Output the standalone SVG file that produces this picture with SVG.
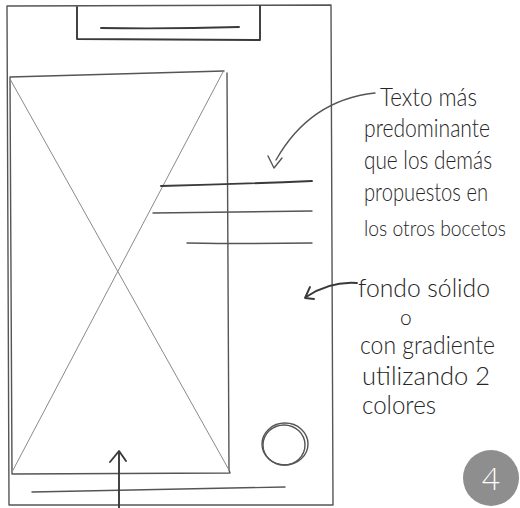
<svg xmlns="http://www.w3.org/2000/svg" width="520" height="508" viewBox="0 0 520 508">
<style>
.pen{fill:none;stroke:#555;stroke-width:1.4;stroke-linecap:round;stroke-linejoin:round}
.dark{fill:none;stroke:#3a3a3a;stroke-width:1.9;stroke-linecap:round;stroke-linejoin:round}
.light{fill:none;stroke:#8a8a8a;stroke-width:1;stroke-linecap:round}
.hand{font-family:Lato,"Open Sans","Liberation Sans",sans-serif;font-weight:300;font-size:25px;fill:#262626}
.badge{font-family:Lato,"Open Sans","Liberation Sans",sans-serif;font-weight:300;font-size:32px;fill:#fff}
</style>
<rect width="520" height="508" fill="#fff"/>
<g id="phone-frame">
<path class="pen" d="M7,6 L331,5 L333,505 L9,505 Z" stroke="#666" stroke-width="1.2"/>
</g>
<g id="header">
<path class="dark" d="M77,7 L77,39 L260,40 L260,6"/>
<path class="dark" d="M101,28 Q170,29 239,27"/>
</g>
<g id="image-placeholder">
<path class="pen" d="M10,77 L224,71 M227,73 L229,470 L230,473 L12,474 L10,77" stroke="#4a4a4a" stroke-width="1.5"/>
<path class="light" d="M10,79 L229,470"/>
<path class="light" d="M223,72 L12,472"/>
</g>
<g id="text-lines">
<path class="dark" d="M161,186 Q240,184 312,181"/>
<path class="pen" d="M153,213 L312,211" stroke="#666"/>
<path class="pen" d="M187,243 Q250,244 312,243" stroke="#555"/>
</g>
<g id="fab">
<ellipse class="pen" cx="285" cy="444" rx="23" ry="21" stroke="#444"/>
<ellipse class="pen" cx="284" cy="445" rx="21" ry="20" stroke="#777" stroke-width="1"/>
</g>
<g id="bottom-bar">
<path class="pen" d="M32,492 Q160,490 285,487" stroke="#4a4a4a" stroke-width="1.6"/>
</g>
<g id="badge">
<circle cx="491" cy="478" r="28" fill="#8e8e8e"/>
<text class="badge" x="491" y="490" text-anchor="middle">4</text>
</g>
<g id="connectors">
<path class="pen" d="M375,93 Q310,100 276,160" stroke="#777" stroke-width="1.2"/>
<path class="pen" d="M268,156 L274,168 L282,158" stroke="#555" stroke-width="1.6"/>
<path class="dark" d="M357,283 Q330,281 306,297" stroke-width="2.2"/>
<path class="dark" d="M310,287 L305,298 L314,299" stroke-width="2"/>
<path class="dark" d="M119,508 L119,452"/>
<path class="dark" d="M110,462 L119,451 L126,461"/>
</g>
<g id="annotation-text">
<text class="hand" x="380" y="106" textLength="97" lengthAdjust="spacingAndGlyphs">Texto más</text>
<text class="hand" x="364" y="137" textLength="126" lengthAdjust="spacingAndGlyphs">predominante</text>
<text class="hand" x="364" y="169" textLength="128" lengthAdjust="spacingAndGlyphs">que los demás</text>
<text class="hand" x="364" y="201" textLength="124" lengthAdjust="spacingAndGlyphs">propuestos en</text>
<text class="hand" x="364" y="236" style="font-size:21px" textLength="142" lengthAdjust="spacingAndGlyphs">los otros bocetos</text>
</g>
<g id="background-text">
<text class="hand" x="358" y="297" textLength="132" lengthAdjust="spacingAndGlyphs">fondo sólido</text>
<text class="hand" x="400" y="325" style="font-size:21px">o</text>
<text class="hand" x="360" y="354" textLength="135" lengthAdjust="spacingAndGlyphs">con gradiente</text>
<text class="hand" x="362" y="385" textLength="128" lengthAdjust="spacingAndGlyphs">utilizando 2</text>
<text class="hand" x="362" y="414" textLength="74" lengthAdjust="spacingAndGlyphs">colores</text>
</g>
</svg>
